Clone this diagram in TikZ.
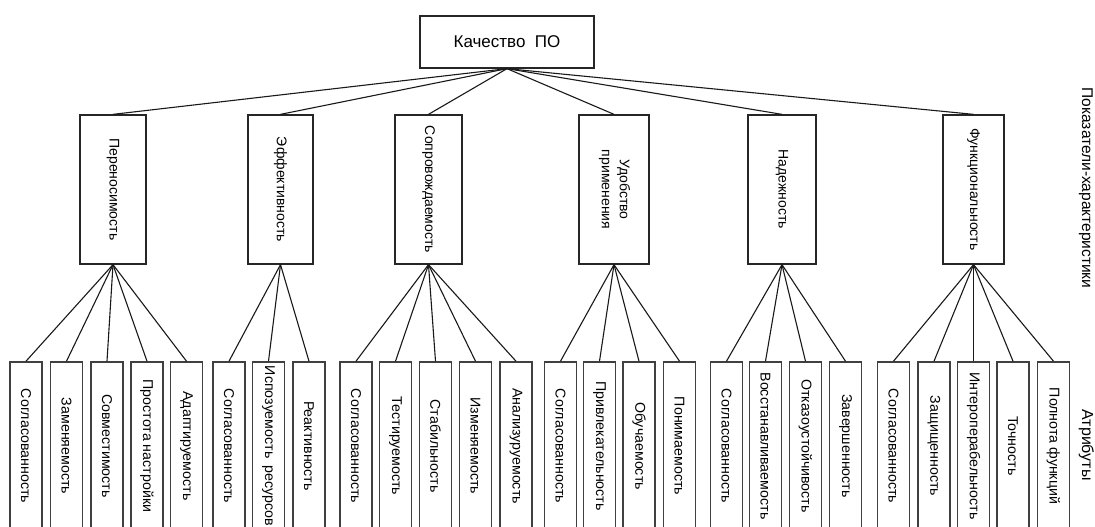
\documentclass[tikz,border=0pt]{standalone}
\usepackage{fontspec}
\setmainfont{Liberation Sans}
\begin{document}
\begin{tikzpicture}[x=1pt,y=-1pt,
  topbox/.style={draw=black!85, line width=1.3pt, minimum width=174pt, minimum height=52pt,
    inner sep=0pt, font=\fontsize{17}{19}\selectfont},
  midbox/.style={draw=black!85, line width=1.3pt, minimum height=149pt, inner sep=0pt,
    font=\fontsize{14}{16}\selectfont},
  attrbox/.style={draw=black!75, line width=1.6pt, minimum width=32pt, minimum height=168pt,
    inner sep=0pt, font=\fontsize{14.2}{16}\selectfont},
  link/.style={draw=black!90, line width=1.1pt},
  sidelabel/.style={rotate=-90, anchor=base, inner sep=0pt}]
\clip (0,0) rectangle (1095,527);
\fill[white] (0,0) rectangle (1095,527);

% root
\node[topbox] (root) at (507,42) {Качество~~ПО};

% characteristics
\node[midbox, minimum width=66pt] (m1) at (113,189.5) {\rotatebox{-90}{Переносимость}};
\node[midbox, minimum width=65pt] (m2) at (280.5,189.5) {\rotatebox{-90}{Эффективность}};
\node[midbox, minimum width=67pt] (m3) at (428.5,189.5) {\rotatebox{-90}{Сопровождаемость}};
\node[midbox, minimum width=70pt] (m4) at (614,189.5)
  {\rotatebox{-90}{\begin{tabular}{@{}c@{}}Удобство\\[2pt]применения\end{tabular}}};
\node[midbox, minimum width=68pt] (m5) at (782,189.5) {\rotatebox{-90}{Надежность}};
\node[midbox, minimum width=61pt] (m6) at (973.5,189.5) {\rotatebox{-90}{Функциональность}};

\foreach \m in {m1,m2,m3,m4,m5,m6}
  \draw[link] (root.south) -- (\m.north);

% attributes
\foreach \cx/\nm/\txt/\up in {
    26/a1/Согласованность/m1, 66.5/a2/Заменяемость/m1, 107/a3/Совместимость/m1,
    147/a4/Простота настройки/m1, 186.5/a5/Адаптируемость/m1,
    229/a6/Согласованность/m2, 268.5/a7/Испозуемость\hspace{0.5em}ресурсов/m2,
    309/a8/Реактивность/m2,
    356/a9/Согласованность/m3, 395.5/a10/Тестируемость/m3, 435.5/a11/Стабильность/m3,
    475.5/a12/Изменяемость/m3, 516/a13/Анализуруемость/m3,
    560.5/a14/Согласованность/m4, 599.5/a15/Привлекательность/m4,
    639/a16/Обучаемость/m4, 679.5/a17/Понимаемость/m4,
    726.5/a18/Согласованность/m5, 765.5/a19/Восстанавливаемость/m5,
    805.5/a20/Отказоустойчивость/m5, 845.5/a21/Завершенность/m5,
    893.5/a22/Согласованность/m6, 934/a23/Защищенность/m6,
    973.5/a24/Интероперабельность/m6, 1013/a25/Точность/m6, 1053.5/a26/Полнота функций/m6}
{
  \node[attrbox] (\nm) at (\cx,446) {\rotatebox{-90}{\txt}};
  \draw[link] (\up.south) -- (\nm.north);
}

% level captions
\node[sidelabel, font=\fontsize{15.5}{17}\selectfont] (capA) at (1082,188)
  {Показатели-характеристики};
\node[sidelabel, font=\fontsize{16}{18}\selectfont] (capB) at (1082,445) {Атрибуты};
\end{tikzpicture}
\end{document}
